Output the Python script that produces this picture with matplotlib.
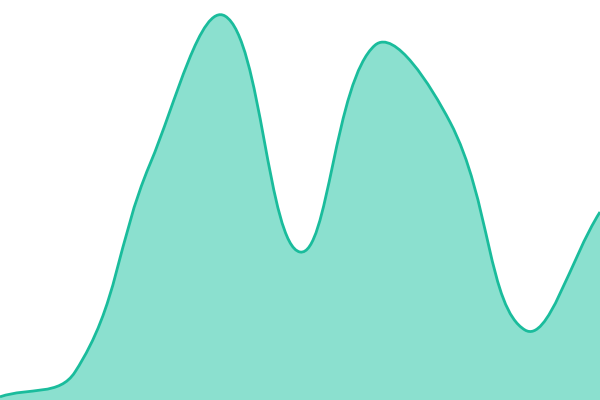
import numpy as np
from matplotlib import pyplot as plt
from matplotlib.path import Path
from matplotlib.patches import PathPatch

# data
labels = ['1', '2', '3', '4', '5', '6', '7', '8', '9']
values = [0.8, 7, 59, 96, 37, 88.7, 69.5, 17.5, 47]

W, H = 600, 400
line_color = '#1abc9c'
fill_color = '#8be0cf'
tension = 0.4

x = np.arange(len(values), dtype=float)
xmax = x[-1]
ymax = 100.0

# pixel coords (chart.js style spline works in pixel space)
px = x / xmax * W
py = np.array(values) / ymax * H
pts = np.column_stack([px, py])


def control_points(pts, t):
    n = len(pts)
    cp_prev = pts.copy()
    cp_next = pts.copy()
    for i in range(n):
        prev = pts[i - 1] if i > 0 else pts[i]
        cur = pts[i]
        nxt = pts[i + 1] if i < n - 1 else pts[i]
        d01 = np.hypot(*(cur - prev))
        d12 = np.hypot(*(nxt - cur))
        s01 = d01 / (d01 + d12) if d01 + d12 else 0
        s12 = d12 / (d01 + d12) if d01 + d12 else 0
        fa = t * s01
        fb = t * s12
        cp_prev[i] = cur - fa * (nxt - prev)
        cp_next[i] = cur + fb * (nxt - prev)
    # cap inside chart area
    cp_prev[:, 0] = np.clip(cp_prev[:, 0], 0, W)
    cp_next[:, 0] = np.clip(cp_next[:, 0], 0, W)
    cp_prev[:, 1] = np.clip(cp_prev[:, 1], 0, H)
    cp_next[:, 1] = np.clip(cp_next[:, 1], 0, H)
    return cp_prev, cp_next


cp_prev, cp_next = control_points(pts, tension)

verts = [tuple(pts[0])]
codes = [Path.MOVETO]
for i in range(len(pts) - 1):
    verts += [tuple(cp_next[i]), tuple(cp_prev[i + 1]), tuple(pts[i + 1])]
    codes += [Path.CURVE4] * 3

line_path = Path(verts, codes)
fill_path = Path(verts + [(W, 0), (0, 0), (0, 0)],
                 codes + [Path.LINETO, Path.LINETO, Path.CLOSEPOLY])

fig = plt.figure(figsize=(6, 4), dpi=100)
ax = fig.add_axes([0, 0, 1, 1])
ax.add_patch(PathPatch(fill_path, facecolor=fill_color, edgecolor='none'))
ax.add_patch(PathPatch(line_path, facecolor='none', edgecolor=line_color, lw=2.0))
ax.set_xlim(0, W)
ax.set_ylim(0, H)
ax.axis('off')

plt.savefig('out.png', dpi=100)
